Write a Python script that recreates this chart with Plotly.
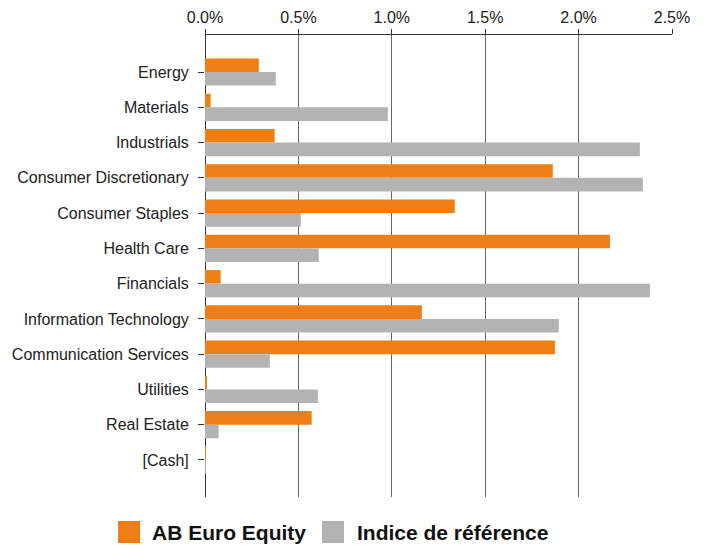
import plotly.graph_objects as go

categories = ["Energy", "Materials", "Industrials", "Consumer Discretionary",
              "Consumer Staples", "Health Care", "Financials",
              "Information Technology", "Communication Services",
              "Utilities", "Real Estate", "[Cash]"]
fund = [0.288, 0.030, 0.373, 1.862, 1.337, 2.168, 0.084, 1.161, 1.873, 0.009, 0.571, 0.004]
benchmark = [0.379, 0.979, 2.328, 2.344, 0.513, 0.609, 2.382, 1.894, 0.347, 0.604, 0.073, 0.004]
series_names = ["AB Euro Equity", "Indice de référence"]
colors = ["#EF7F14", "#B3B3B3"]
x_ticks = [0, 0.5, 1.0, 1.5, 2.0, 2.5]

fig = go.Figure()
for name, vals, col in zip(series_names, [fund, benchmark], colors):
    fig.add_trace(go.Bar(y=categories, x=vals, name=name, orientation="h",
                         marker=dict(color=col, line=dict(width=0)),
                         showlegend=False))

font_family = "Liberation Sans, Arial, sans-serif"
L, R, T, B, W, H = 205, 32, 35, 50, 704, 547
PW, PH = W - L - R, H - T - B
fig.update_layout(
    width=W, height=H,
    margin=dict(l=L, r=R, t=T, b=B),
    paper_bgcolor="white", plot_bgcolor="white",
    barmode="group", bargap=0.23, bargroupgap=0,
    font=dict(family=font_family, size=16, color="#222222"),
    xaxis=dict(side="top", range=[0, 2.5], tickvals=x_ticks,
               ticktext=[f"{v:.1f}%" for v in x_ticks], automargin=False,
               showgrid=True, gridcolor="#666666", gridwidth=1,
               showline=True, linecolor="#333333", linewidth=1,
               ticks="outside", ticklen=5, tickcolor="#333333",
               zeroline=True, zerolinecolor="#333333", zerolinewidth=1,
               tickfont=dict(size=16, color="#222222")),
    yaxis=dict(categoryorder="array", categoryarray=categories, automargin=False,
               range=[len(categories) - 1 + 1.05, -1.05],
               showline=False, ticks="outside", ticklen=6, tickcolor="#333333",
               ticklabelstandoff=6,
               showgrid=False, tickfont=dict(size=16, color="#222222")),
)

# custom legend at bottom
legend_items = [(118, 150, series_names[0], colors[0]), (322, 355, series_names[1], colors[1])]
for sx, tx, name, col in legend_items:
    fig.add_shape(type="rect", xref="paper", yref="paper",
                  x0=(sx - L) / PW, x1=(sx + 22 - L) / PW,
                  y0=-(543 - (H - B)) / PH, y1=-(521 - (H - B)) / PH,
                  fillcolor=col, line=dict(width=0))
    fig.add_annotation(xref="paper", yref="paper", x=(tx - L) / PW,
                       y=-(532 - (H - B)) / PH, text=f"<b>{name}</b>",
                       showarrow=False, xanchor="left", yanchor="middle",
                       font=dict(size=21, color="#111111", family=font_family))

fig.write_html("out.html", config={"displayModeBar": False},
               post_script="document.body.style.margin='0';document.body.style.overflow='hidden';")
